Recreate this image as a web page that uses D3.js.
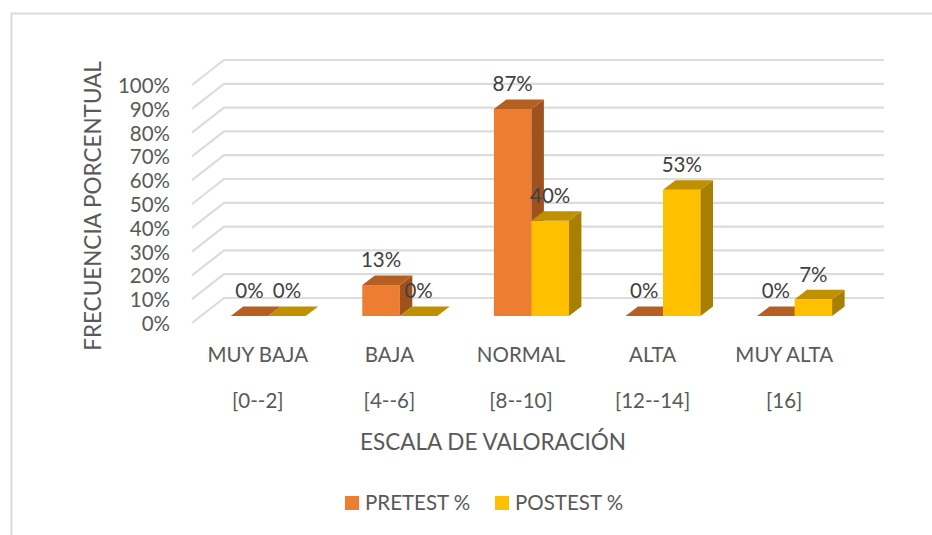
<!DOCTYPE html>
<meta charset="utf-8">
<style>
html, body { margin: 0; padding: 0; background: #fff; }
text { font-family: Lato, sans-serif; }
.axis path, .axis line { display: none; }
.axis text { font-size: 20.5px; fill: #595959; font-family: Lato, sans-serif; }
</style>
<body>
<script src="https://d3js.org/d3.v7.min.js"></script>
<script>

// values
var categories = ["MUY BAJA", "BAJA", "NORMAL", "ALTA", "MUY ALTA"];
var ranges = ["[0--2]", "[4--6]", "[8--10]", "[12--14]", "[16]"];
var seriesNames = ["PRETEST %", "POSTEST %"];
var pretest = [0, 13, 87, 0, 0];
var postest = [0, 0, 40, 53, 7];
var yTicks = [0, 10, 20, 30, 40, 50, 60, 70, 80, 90, 100];

var width = 932, height = 535;

var svg = d3.select("body").append("svg")
    .attr("width", width)
    .attr("height", height)
    .style("display", "block");

// chart frame, only left and top edges are in the crop
svg.append("path")
    .attr("d", "M11.5,535V13.5H932")
    .attr("fill", "none")
    .attr("stroke", "#dcdcdc")
    .attr("stroke-width", 2);

// scales work on the bar front plane, the walls are offset from it
var x0 = d3.scaleBand().domain(categories).range([192, 850]).paddingInner(0.43).paddingOuter(0.215);
var x1 = d3.scaleBand().domain(seriesNames).range([0, x0.bandwidth()]);
var y = d3.scaleLinear().domain([0, 100]).range([316, 78]);

var wallFront = 7, wallBack = -18, wallDepth = 32, barOffset = 10.4;
var depthX = 12.5, depthY = -9.5;

// gridlines: side wall and back wall
var grid = svg.append("g");
grid.selectAll("path")
    .data(yTicks)
  .enter().append("path")
    .attr("fill", "none")
    .attr("stroke", "#dcdcdc")
    .attr("stroke-width", 2.2)
    .attr("d", function(d) {
      return "M192," + (y(d) + wallFront) + "L" + (192 + wallDepth) + "," + (y(d) + wallBack) + "H884";
    });

// y axis
svg.append("g")
    .attr("class", "axis")
    .attr("transform", "translate(170," + (wallFront + 1) + ")")
    .call(d3.axisLeft(y).tickValues(yTicks).tickSize(0).tickPadding(0).tickFormat(function(d) { return d + "%"; }));

// x axis, two rows of labels
svg.append("g")
    .attr("class", "axis")
    .attr("transform", "translate(0,347)")
    .call(d3.axisBottom(x0).tickSize(0).tickPadding(0));
svg.append("g")
    .attr("class", "axis")
    .attr("transform", "translate(0,393)")
    .call(d3.axisBottom(x0).tickSize(0).tickPadding(0).tickFormat(function(d, i) { return ranges[i]; }));

var series = [
  {name: seriesNames[0], values: pretest, front: "#ED7D31", side: "#9E531F", top: "#B65F23"},
  {name: seriesNames[1], values: postest, front: "#FFC000", side: "#A87F00", top: "#C09000"}
];

// 3d columns, left to right
series.forEach(function(s) {
  var g = svg.append("g");
  var bars = g.selectAll("g")
      .data(s.values)
    .enter().append("g")
      .attr("transform", function(d, i) {
        return "translate(" + (x0(categories[i]) + x1(s.name) + barOffset) + ",0)";
      });

  bars.filter(function(d) { return d > 0; }).append("rect")
      .attr("width", x1.bandwidth())
      .attr("y", function(d) { return y(d); })
      .attr("height", function(d) { return y(0) - y(d); })
      .attr("fill", s.front);

  bars.filter(function(d) { return d > 0; }).append("path")
      .attr("fill", s.side)
      .attr("d", function(d) {
        var w = x1.bandwidth();
        return "M" + w + "," + y(d) + "l" + depthX + "," + depthY + "V" + (y(0) + depthY) + "L" + w + "," + y(0) + "Z";
      });

  bars.append("path")
      .attr("fill", s.top)
      .attr("d", function(d) {
        var w = x1.bandwidth();
        return "M0," + y(d) + "l" + depthX + "," + depthY + "h" + w + "l" + (-depthX) + "," + (-depthY) + "Z";
      });
});

// data labels go on top of all the columns
series.forEach(function(s) {
  svg.append("g").selectAll("text")
      .data(s.values)
    .enter().append("text")
      .attr("x", function(d, i) { return x0(categories[i]) + x1(s.name) + barOffset + x1.bandwidth() / 2; })
      .attr("y", function(d) { return y(d) - 25; })
      .attr("dy", "0.35em")
      .attr("text-anchor", "middle")
      .attr("font-size", 20.5)
      .attr("fill", "#404040")
      .text(function(d) { return d + "%"; });
});

// axis titles
svg.append("text")
    .attr("transform", "translate(93,206) rotate(-90)")
    .attr("dy", "0.35em")
    .attr("text-anchor", "middle")
    .attr("font-size", 22.5)
    .attr("fill", "#595959")
    .text("FRECUENCIA PORCENTUAL");

svg.append("text")
    .attr("x", 493)
    .attr("y", 442)
    .attr("dy", "0.35em")
    .attr("text-anchor", "middle")
    .attr("font-size", 22.5)
    .attr("fill", "#595959")
    .text("ESCALA DE VALORACIÓN");

// legend
var legendX = d3.scaleOrdinal().domain(seriesNames).range([345, 495]);
var legend = svg.append("g").selectAll("g")
    .data(series)
  .enter().append("g")
    .attr("transform", function(d) { return "translate(" + legendX(d.name) + ",496)"; });
legend.append("rect")
    .attr("width", 14)
    .attr("height", 14)
    .attr("fill", function(d) { return d.front; });
legend.append("text")
    .attr("x", 20)
    .attr("y", 7)
    .attr("dy", "0.35em")
    .attr("font-size", 20.5)
    .attr("fill", "#595959")
    .text(function(d) { return d.name; });

</script>
</body>
